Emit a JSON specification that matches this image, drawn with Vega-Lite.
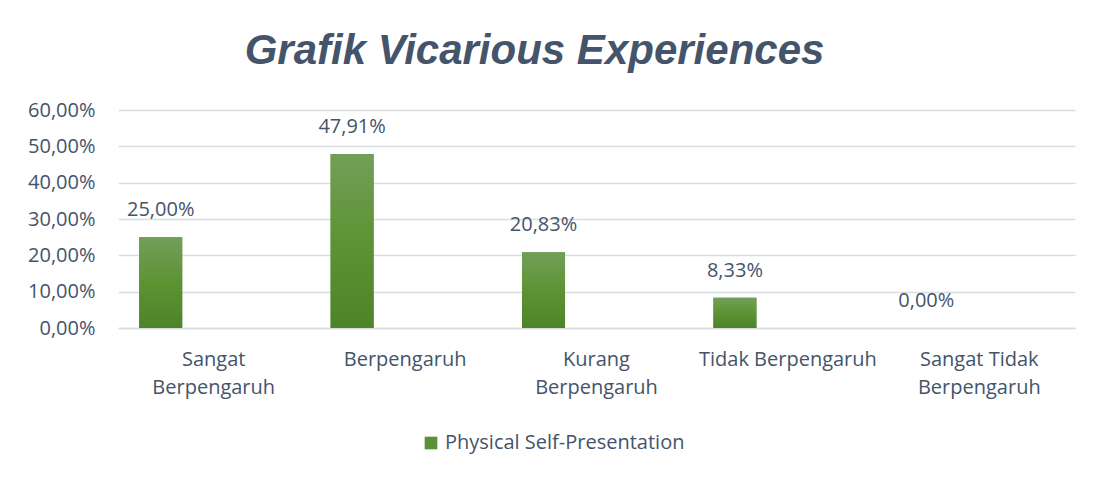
{
  "$schema": "https://vega.github.io/schema/vega-lite/v6.json",
  "autosize": "none",
  "width": 957,
  "height": 218,
  "padding": {"left": 118, "top": 110, "right": 20, "bottom": 149},
  "background": "white",
  "config": {
    "locale": {"number": {"decimal": ",", "thousands": ".", "grouping": [3], "currency": ["", ""]}},
    "view": {"stroke": null},
    "font": "Open Sans"
  },
  "title": {
    "text": "Grafik Vicarious Experiences",
    "font": "Liberation Sans",
    "fontSize": 42,
    "fontWeight": "bold",
    "fontStyle": "italic",
    "color": "#44546A",
    "anchor": "middle",
    "dx": -62,
    "offset": 27
  },
  "data": {
    "values": [
      {"kategori": "Sangat Berpengaruh", "seri": "Physical Self-Presentation", "nilai": 0.25},
      {"kategori": "Berpengaruh", "seri": "Physical Self-Presentation", "nilai": 0.4791},
      {"kategori": "Kurang Berpengaruh", "seri": "Physical Self-Presentation", "nilai": 0.2083},
      {"kategori": "Tidak Berpengaruh", "seri": "Physical Self-Presentation", "nilai": 0.0833},
      {"kategori": "Sangat Tidak Berpengaruh", "seri": "Physical Self-Presentation", "nilai": 0}
    ]
  },
  "encoding": {
    "x": {
      "field": "kategori",
      "type": "nominal",
      "sort": null,
      "scale": {"paddingInner": 0, "paddingOuter": 0},
      "axis": {
        "title": null,
        "labelAngle": 0,
        "labelFontSize": 20,
        "labelColor": "#44546A",
        "labelFont": "Open Sans",
        "labelPadding": 21,
        "labelLineHeight": 28,
        "labelLimit": 300,
        "ticks": false,
        "domainColor": "#D9DDE3",
        "domainWidth": 1.5,
        "labelExpr": "datum.value == 'Sangat Berpengaruh' ? ['Sangat', 'Berpengaruh'] : datum.value == 'Kurang Berpengaruh' ? ['Kurang', 'Berpengaruh'] : datum.value == 'Sangat Tidak Berpengaruh' ? ['Sangat Tidak', 'Berpengaruh'] : datum.value"
      }
    },
    "xOffset": {
      "field": "seri",
      "type": "nominal",
      "scale": {"domain": ["Physical Self-Presentation", "Seri 2"], "paddingInner": 0.594, "paddingOuter": 0.2}
    },
    "y": {
      "field": "nilai",
      "type": "quantitative",
      "scale": {"domain": [0, 0.6]},
      "axis": {
        "title": null,
        "format": ".2%",
        "values": [0, 0.1, 0.2, 0.3, 0.4, 0.5, 0.6],
        "labelOverlap": false,
        "labelFontSize": 20,
        "labelColor": "#44546A",
        "labelFont": "Open Sans",
        "labelPadding": 23,
        "ticks": false,
        "domain": false,
        "gridColor": "#D9DDE3",
        "gridWidth": 1.5
      }
    }
  },
  "layer": [
    {
      "mark": {"type": "bar"},
      "encoding": {
        "color": {
          "field": "seri",
          "type": "nominal",
          "scale": {"range": ["#5A9136"]},
          "legend": {
            "title": null,
            "orient": "none",
            "legendX": 303,
            "legendY": 323,
            "padding": 0,
            "symbolType": "square",
            "symbolSize": 160,
            "symbolStrokeWidth": 0,
            "labelFontSize": 20,
            "labelColor": "#44546A",
            "labelFont": "Open Sans",
            "labelLimit": 400,
            "labelOffset": 4
          }
        }
      }
    },
    {
      "mark": {
        "type": "bar",
        "color": {
          "gradient": "linear",
          "x1": 0, "y1": 0, "x2": 0, "y2": 1,
          "stops": [
            {"offset": 0, "color": "#729F59"},
            {"offset": 0.5, "color": "#5D9333"},
            {"offset": 1, "color": "#4E8428"}
          ]
        }
      },
      "encoding": {}
    },
    {
      "mark": {"type": "text", "dy": -27, "fontSize": 20, "color": "#44546A", "font": "Open Sans"},
      "encoding": {
        "text": {"field": "nilai", "type": "quantitative", "format": ".2%"}
      }
    }
  ]
}
